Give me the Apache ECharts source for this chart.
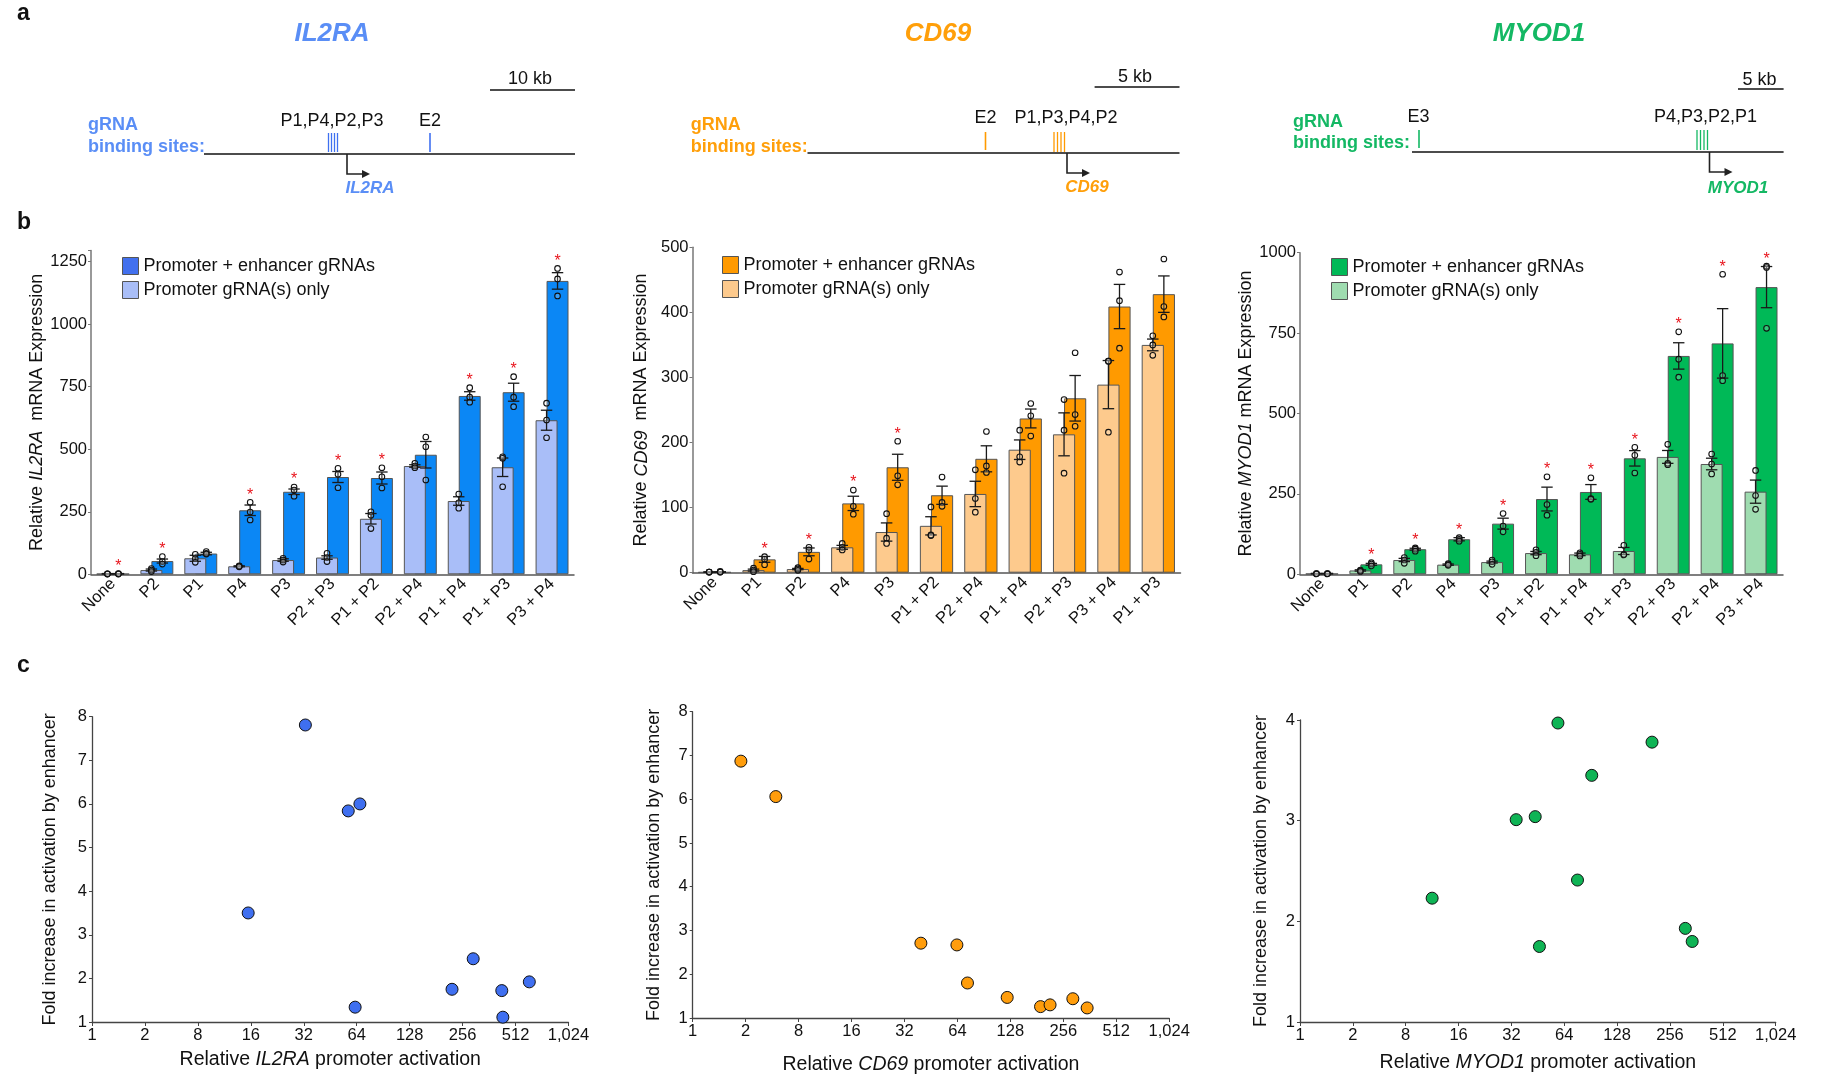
<!DOCTYPE html>
<html><head><meta charset="utf-8">
<script src="https://cdn.jsdelivr.net/npm/echarts@6/dist/echarts.min.js"></script>
<style>html,body{margin:0;padding:0;background:#fff}#c{width:1822px;height:1076px}</style>
</head><body><div id="c"></div>
<script>
// ---------- DATA ----------
const il2raCats = ['None','P2','P1','P4','P3','P2 + P3','P1 + P2','P2 + P4','P1 + P4','P1 + P3','P3 + P4'];
const il2raEnh = [2,53,83,256,330,389,385,478,713,728,1173];
const il2raEnhErr = [1,8,5,21,11,22,24,53,17,36,33];
const il2raPro = [2,17,64,32,57,67,222,433,293,428,616];
const il2raProErr = [1,4,12,2,5,7,21,5,17,37,40];
const il2raEnhReps = [[3,2,1],[71,51,41],[91,84,81],[288,249,217],[349,337,312],[424,400,346],[426,390,345],[549,510,377],[746,708,688],[790,708,670],[1223,1181,1113]];
const il2raProReps = [[2,2,1],[23,17,11],[80,63,48],[34,32,30],[64,57,49],[84,67,51],[250,236,183],[444,433,426],[321,286,264],[470,464,350],[684,617,546]];
const il2raSig = [1,1,0,1,1,1,1,0,1,1,1];

const cd69Cats = ['None','P1','P2','P4','P3','P1 + P2','P2 + P4','P1 + P4','P2 + P3','P3 + P4','P1 + P3'];
const cd69Enh = [1,20.5,32,106.5,162,119,175,237,268,409,428];
const cd69EnhErr = [0.5,4.5,6,11,20,14,20,14.5,35,34,28];
const cd69Pro = [1,4,5.6,39,62.5,72,121,189,212.6,289,350];
const cd69ProErr = [0.3,1.5,1,3,14,14,19.5,15,33,37,9];
const cd69EnhReps = [[2,1,1],[24.6,20.5,12.3],[39,35,21],[127,102,90],[202,149,135],[147,108,102],[217,164,154],[260,241,210],[338,243,225],[462,418,345],[482,409,393]];
const cd69ProReps = [[1,1,1],[7,4,1.5],[7.7,5.6,3.6],[45,39,35],[90.7,53,45],[101,58,57],[158,114,93],[219,178,170],[266,219,153],[325,325,216],[364,350,334]];
const cd69Sig = [0,1,1,1,1,0,0,0,0,0,0];

const myodCats = ['None','P1','P2','P4','P3','P1 + P2','P1 + P4','P1 + P3','P2 + P3','P2 + P4','P3 + P4'];
const myodEnh = [2,31,78,109,157.5,234,256,360.6,679,718,893];
const myodEnhErr = [1,3,3,5,17,37,23,24,41,108,64];
const myodPro = [2,12,44.5,30,38,66,62,72.5,365,343,257];
const myodProErr = [1,2,5,2,3,5,4,11,20,18,36];
const myodEnhReps = [[2,2,1],[36,32,26],[82,78,72],[114,109,103],[189,150,132],[303,217,184],[300,235,233],[395,370,315],[754,669,613],[933,618,602],[958,954,765]];
const myodProReps = [[2,2,1],[13,11,9],[52,44.5,34],[33,30,28],[44.5,39,31],[76,68,58],[67,62,57],[90,62,60],[404,345,341],[374,343,312],[323,245,202]];
const myodSig = [0,1,1,1,1,1,1,1,1,1,1];

// scatter: x in axis-tick units (tick i labelled scatterTicks[i])
const scatterTicks = ['1','2','8','16','32','64','128','256','512','1,024'];
const il2raScX = [4.03,2.95,4.84,5.06,4.97,6.80,7.20,7.74,7.76,8.26];
const il2raScY = [7.81,3.50,5.84,6.00,1.34,1.75,2.45,1.72,1.11,1.92];
const cd69ScX = [0.91,1.57,4.31,4.99,5.19,5.94,6.57,6.75,7.18,7.45];
const cd69ScY = [6.87,6.06,2.71,2.67,1.80,1.47,1.26,1.30,1.44,1.23];
const myodScX = [4.88,6.66,5.52,4.09,4.45,5.25,2.50,4.53,7.29,7.42];
const myodScY = [3.97,3.78,3.45,3.01,3.04,2.41,2.23,1.75,1.93,1.80];

const legendNames = ['Promoter + enhancer gRNAs','Promoter gRNA(s) only'];

// ---------- STYLE / LAYOUT ----------
const FONT = "'Liberation Sans', Arial, Helvetica, sans-serif";
const barPanels = [
  {cats: il2raCats, enh: il2raEnh, enhErr: il2raEnhErr, pro: il2raPro, proErr: il2raProErr, enhReps: il2raEnhReps, proReps: il2raProReps, sig: il2raSig,
   gene: 'IL2RA', sep: '  ', dark: '#0b87f5', light: '#a9bef8', legendDark: '#4270ee',
   grid: {left: 91, top: 250.4, width: 483, height: 323.9}, max: 1295, interval: 250, legend: {left: 117, top: 252}, nameGap: 43},
  {cats: cd69Cats, enh: cd69Enh, enhErr: cd69EnhErr, pro: cd69Pro, proErr: cd69ProErr, enhReps: cd69EnhReps, proReps: cd69ProReps, sig: cd69Sig,
   gene: 'CD69', sep: '  ', dark: '#ff9a00', light: '#fdca8d', legendDark: '#ff9a00',
   grid: {left: 692.5, top: 247.3, width: 488, height: 325.4}, max: 500, interval: 100, legend: {left: 717, top: 251}, nameGap: 42},
  {cats: myodCats, enh: myodEnh, enhErr: myodEnhErr, pro: myodPro, proErr: myodProErr, enhReps: myodEnhReps, proReps: myodProReps, sig: myodSig,
   gene: 'MYOD1', sep: ' ', dark: '#00b957', light: '#9fdcb0', legendDark: '#00b957',
   grid: {left: 1300, top: 252.7, width: 483, height: 321.6}, max: 1000, interval: 250, legend: {left: 1326, top: 253}, nameGap: 43}
];
const scPanels = [
  {x: il2raScX, y: il2raScY, gene: 'IL2RA', color: '#3f6ff0', grid: {left: 92, top: 716.7, width: 476.5, height: 305.3}, ymax: 8, yGap: 33, xGap: 28},
  {x: cd69ScX, y: cd69ScY, gene: 'CD69', color: '#ff9d0c', grid: {left: 692.7, top: 711.7, width: 476.5, height: 306.6}, ymax: 8, yGap: 30, xGap: 37},
  {x: myodScX, y: myodScY, gene: 'MYOD1', color: '#0fb455', grid: {left: 1300, top: 720, width: 475.7, height: 302}, ymax: 4, yGap: 30, xGap: 31}
];

const grids = [], xAxes = [], yAxes = [], series = [], legends = [];

function offsetX(api, side) {
  const band = api.size([1, 0])[0];
  return (side ? 1 : -1) * band * 0.125;
}

barPanels.forEach((p, i) => {
  grids.push(Object.assign({containLabel: false}, p.grid));
  xAxes.push({
    type: 'category', gridIndex: i, data: p.cats,
    axisLine: {lineStyle: {color: '#555', width: 1.5}},
    axisTick: {alignWithLabel: true, length: 4, lineStyle: {color: '#555'}},
    axisLabel: {interval: 0, rotate: 45, fontSize: 16.5, color: '#111', fontFamily: FONT, margin: 7}
  });
  yAxes.push({
    type: 'value', gridIndex: i, min: 0, max: p.max, interval: p.interval,
    name: 'Relative {i|' + p.gene + '}' + p.sep + 'mRNA Expression',
    nameLocation: 'middle', nameGap: p.nameGap,
    nameTextStyle: {fontSize: 18, color: '#111', fontFamily: FONT, rich: {i: {fontStyle: 'italic', fontSize: 18, color: '#111', fontFamily: FONT}}},
    splitLine: {show: false},
    axisLine: {show: true, lineStyle: {color: '#777', width: 1.5}},
    axisTick: {show: true, length: 3, lineStyle: {color: '#777'}},
    axisLabel: {fontSize: 16.5, color: '#111', fontFamily: FONT, margin: 4,
      formatter: v => (v % p.interval === 0 ? String(v) : '')}
  });
  const barStyle = c => ({color: c, borderColor: '#555', borderWidth: 1});
  series.push({
    type: 'bar', name: legendNames[1], xAxisIndex: i, yAxisIndex: i, data: p.pro,
    barWidth: '50%', barGap: '-50%', itemStyle: barStyle(p.light), z: 3, silent: true
  });
  series.push({
    type: 'bar', name: legendNames[0], xAxisIndex: i, yAxisIndex: i, data: p.enh,
    barWidth: '50%', barGap: '-50%', itemStyle: barStyle(p.dark), z: 2, silent: true
  });
  // error bars
  const errData = [];
  p.cats.forEach((c, k) => { errData.push([k, p.pro[k], p.proErr[k], 0]); errData.push([k, p.enh[k], p.enhErr[k], 1]); });
  series.push({
    type: 'custom', xAxisIndex: i, yAxisIndex: i, data: errData, z: 5, silent: true, clip: false,
    renderItem: (params, api) => {
      const k = api.value(0), m = api.value(1), e = api.value(2), side = api.value(3);
      const band = api.size([1, 0])[0];
      const hi = api.coord([k, m + e]), lo = api.coord([k, Math.max(0, m - e)]);
      const x = hi[0] + offsetX(api, side), cap = band * 0.13;
      const st = {stroke: '#1a1a1a', lineWidth: 1.3};
      return {type: 'group', children: [
        {type: 'line', shape: {x1: x, y1: hi[1], x2: x, y2: lo[1]}, style: st},
        {type: 'line', shape: {x1: x - cap, y1: hi[1], x2: x + cap, y2: hi[1]}, style: st},
        {type: 'line', shape: {x1: x - cap, y1: lo[1], x2: x + cap, y2: lo[1]}, style: st}
      ]};
    }
  });
  // replicate dots
  const dotData = [];
  p.cats.forEach((c, k) => {
    p.proReps[k].forEach(v => dotData.push([k, v, 0]));
    p.enhReps[k].forEach(v => dotData.push([k, v, 1]));
  });
  series.push({
    type: 'custom', xAxisIndex: i, yAxisIndex: i, data: dotData, z: 6, silent: true, clip: false,
    renderItem: (params, api) => {
      const c = api.coord([api.value(0), api.value(1)]);
      return {type: 'circle', shape: {cx: c[0] + offsetX(api, api.value(2)), cy: c[1], r: 2.8},
        style: {fill: 'rgba(255,255,255,0.2)', stroke: '#111', lineWidth: 1.1}};
    }
  });
  // significance asterisks
  const sigData = [];
  p.cats.forEach((c, k) => {
    if (p.sig[k]) sigData.push([k, Math.max(Math.max.apply(null, p.enhReps[k]), p.enh[k] + p.enhErr[k])]);
  });
  series.push({
    type: 'custom', xAxisIndex: i, yAxisIndex: i, data: sigData, z: 7, silent: true, clip: false,
    renderItem: (params, api) => {
      const c = api.coord([api.value(0), api.value(1)]);
      return {type: 'text', x: c[0] + offsetX(api, 1), y: c[1] - 7,
        style: {text: '*', fill: '#e8141c', fontSize: 16, fontFamily: FONT, align: 'center', verticalAlign: 'middle'}};
    }
  });
  legends.push({
    left: p.legend.left, top: p.legend.top, orient: 'vertical', itemWidth: 16, itemHeight: 17, itemGap: 6,
    selectedMode: false, textStyle: {fontSize: 18, color: '#111', fontFamily: FONT},
    data: [
      {name: legendNames[0], icon: 'rect', itemStyle: {color: p.legendDark, borderColor: '#555', borderWidth: 1}},
      {name: legendNames[1], icon: 'rect', itemStyle: {color: p.light, borderColor: '#555', borderWidth: 1}}
    ]
  });
});

scPanels.forEach((p, j) => {
  const i = 3 + j;
  grids.push(Object.assign({containLabel: false}, p.grid));
  xAxes.push({
    type: 'value', gridIndex: i, min: 0, max: 9, interval: 1,
    name: 'Relative {i|' + p.gene + '} promoter activation', nameLocation: 'middle', nameGap: p.xGap,
    nameTextStyle: {fontSize: 19.5, color: '#111', fontFamily: FONT, rich: {i: {fontStyle: 'italic', fontSize: 19.5, color: '#111', fontFamily: FONT}}},
    splitLine: {show: false},
    axisLine: {show: true, lineStyle: {color: '#444', width: 1.3}},
    axisTick: {show: true, length: 4, lineStyle: {color: '#444'}},
    axisLabel: {fontSize: 16.5, color: '#111', fontFamily: FONT, margin: 5, formatter: v => scatterTicks[Math.round(v)]}
  });
  yAxes.push({
    type: 'value', gridIndex: i, min: 1, max: p.ymax, interval: 1,
    name: 'Fold increase in activation by enhancer', nameLocation: 'middle', nameGap: p.yGap,
    nameTextStyle: {fontSize: 18, color: '#111', fontFamily: FONT},
    splitLine: {show: false},
    axisLine: {show: true, lineStyle: {color: '#444', width: 1.3}},
    axisTick: {show: true, length: 3, lineStyle: {color: '#444'}},
    axisLabel: {fontSize: 16.5, color: '#111', fontFamily: FONT, margin: 5}
  });
  series.push({
    type: 'scatter', xAxisIndex: i, yAxisIndex: i, symbolSize: 12, silent: true,
    data: p.x.map((x, k) => [x, p.y[k]]),
    itemStyle: {color: p.color, borderColor: '#111', borderWidth: 1, opacity: 1}
  });
});

// ---------- GRAPHIC (panel letters, titles, gene diagrams) ----------
const graphics = [];
function T(x, y, text, o) {
  o = o || {};
  graphics.push({type: 'text', x: x, y: y, silent: true, style: {
    text: text, fill: o.fill || '#111', fontSize: o.size || 18, fontWeight: o.weight || 'normal',
    fontStyle: o.style || 'normal', fontFamily: FONT, align: o.align || 'center', verticalAlign: 'middle'}});
}
function L(x1, y1, x2, y2, c, w) {
  graphics.push({type: 'line', silent: true, shape: {x1: x1, y1: y1, x2: x2, y2: y2}, style: {stroke: c || '#111', lineWidth: w || 1.5}});
}
T(17, 14, 'a', {size: 23, weight: 'bold', align: 'left'});
T(17, 223, 'b', {size: 23, weight: 'bold', align: 'left'});
T(17, 666, 'c', {size: 23, weight: 'bold', align: 'left'});

const genes = [
  {name: 'IL2RA', color: '#5a8ef6', tick: '#3f70f0', title: [332, 34], line: [204, 575, 154], scale: [490, 575, 90, '10 kb', 530, 79],
   label: [88, 125, 147], sites: [328.5, 331.5, 334.5, 337.5], siteY: [133, 152], enh: [430, 'E2'], enhY: [133, 152], lab: [[332, 'P1,P4,P2,P3'], [430, 'E2']], labY: 121,
   tss: [347, 174, 370], gl: [370, 188]},
  {name: 'CD69', color: '#ff9f0a', tick: '#ff9a00', title: [938, 34], line: [807.5, 1179.5, 153], scale: [1094.6, 1179.5, 87, '5 kb', 1135, 77],
   label: [690.8, 125, 147], sites: [1054, 1057.5, 1061, 1064.5], siteY: [132, 152], enh: [985.5, 'E2'], enhY: [132, 150], lab: [[985.5, 'E2'], [1066, 'P1,P3,P4,P2']], labY: 118,
   tss: [1067, 173, 1090], gl: [1087, 187]},
  {name: 'MYOD1', color: '#14b864', tick: '#14b864', title: [1539, 34], line: [1412, 1783.6, 152], scale: [1738, 1783.6, 89, '5 kb', 1759.4, 80],
   label: [1293, 122, 143], sites: [1697, 1700.5, 1704, 1707.5], siteY: [130, 150], enh: [1419, 'E3'], enhY: [130, 148], lab: [[1418.5, 'E3'], [1705.6, 'P4,P3,P2,P1']], labY: 117,
   tss: [1709.5, 172, 1732.5], gl: [1738, 188]}
];
genes.forEach(g => {
  T(g.title[0], g.title[1], g.name, {size: 26, weight: 'bold', style: 'italic', fill: g.color});
  L(g.line[0], g.line[2], g.line[1], g.line[2], '#111', 1.6);
  L(g.scale[0], g.scale[2], g.scale[1], g.scale[2], '#111', 1.6);
  T(g.scale[4], g.scale[5], g.scale[3], {size: 18});
  T(g.label[0], g.label[1], 'gRNA', {size: 18, weight: 'bold', fill: g.color, align: 'left'});
  T(g.label[0], g.label[2], 'binding sites:', {size: 18, weight: 'bold', fill: g.color, align: 'left'});
  g.sites.forEach(x => L(x, g.siteY[0], x, g.siteY[1], g.tick, 1.3));
  L(g.enh[0], g.enhY[0], g.enh[0], g.enhY[1], g.tick, 1.6);
  g.lab.forEach(l => T(l[0], g.labY, l[1], {size: 18}));
  graphics.push({type: 'polyline', silent: true, shape: {points: [[g.tss[0], g.line[2]], [g.tss[0], g.tss[1]], [g.tss[2] - 5, g.tss[1]]]},
    style: {stroke: '#222', lineWidth: 1.6, fill: null}});
  graphics.push({type: 'polygon', silent: true, shape: {points: [[g.tss[2], g.tss[1]], [g.tss[2] - 8, g.tss[1] - 4], [g.tss[2] - 8, g.tss[1] + 4]]},
    style: {fill: '#222'}});
  T(g.gl[0], g.gl[1], g.name, {size: 17, weight: 'bold', style: 'italic', fill: g.color});
});

const chart = echarts.init(document.getElementById('c'), null, {renderer: 'canvas'});
chart.setOption({
  backgroundColor: '#fff',
  animation: false,
  textStyle: {fontFamily: FONT},
  grid: grids, xAxis: xAxes, yAxis: yAxes, legend: legends, series: series,
  graphic: {elements: graphics}
});
</script></body></html>
